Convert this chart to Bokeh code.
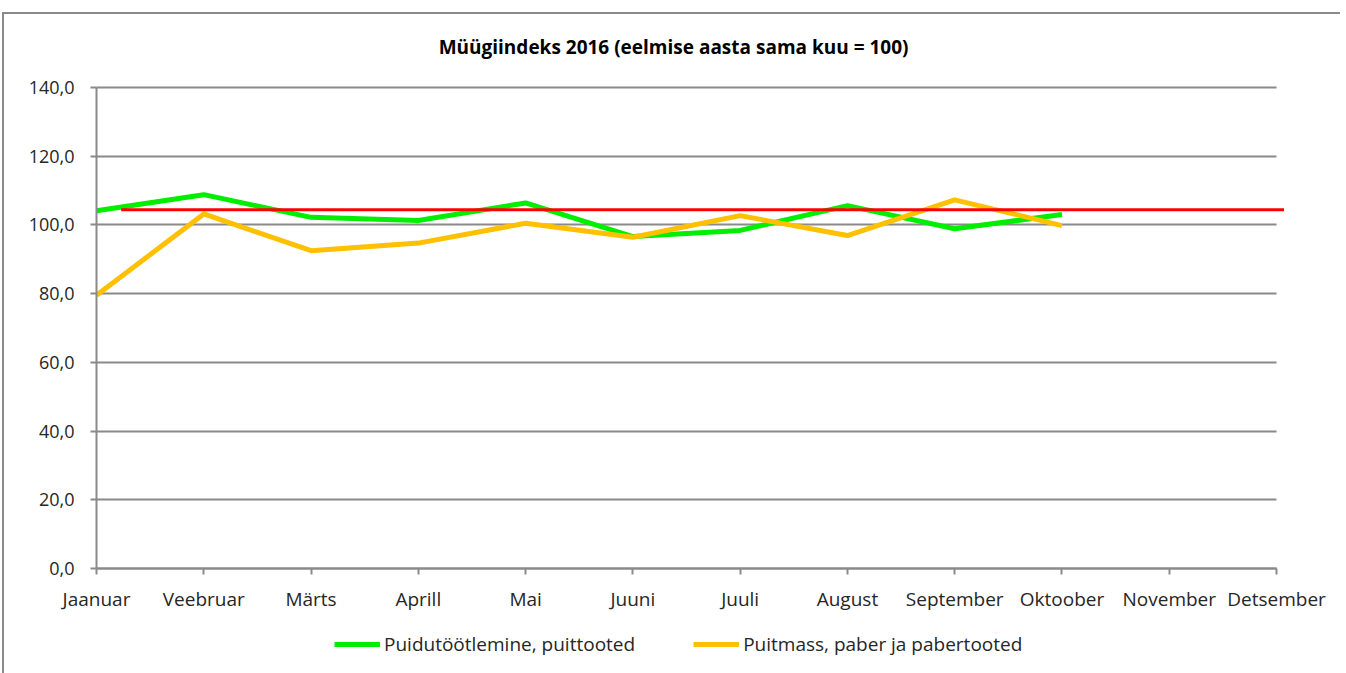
from bokeh.plotting import figure
from bokeh.models import (FixedTicker, CustomJSTickFormatter, Range1d, Legend, LegendItem)
from bokeh.embed import file_html
from bokeh.resources import INLINE

months = ["Jaanuar", "Veebruar", "Märts", "Aprill", "Mai", "Juuni", "Juuli",
          "August", "September", "Oktoober", "November", "Detsember"]
puidutootlemine = [104.1, 108.8, 102.2, 101.3, 106.4, 96.6, 98.4, 105.6, 98.9, 103.0]
puitmass = [79.5, 103.2, 92.5, 94.7, 100.5, 96.4, 102.7, 96.9, 107.3, 99.8]
reference_x = [0.23, 11.07]
reference_value = [104.4, 104.4]
y_ticks = [0, 20, 40, 60, 80, 100, 120, 140]

FONT = "Open Sans"
TXT = "#262626"

# frame extends beyond the value area so that axis labels and legend fit inside it
p = figure(frame_width=1316, frame_height=591, output_backend="svg", toolbar_location=None,
           x_range=Range1d(-0.7085, 11.559), y_range=Range1d(-29.1, 142.9),
           min_border_left=16, min_border_right=4, min_border_top=63,
           min_border_bottom=5)
p.styles = {"border-left": "2px solid #8a8a8a", "border-top": "2px solid #8a8a8a",
            "margin-top": "12px", "margin-left": "2px"}

p.title.text = "Müügiindeks  2016  (eelmise aasta sama kuu = 100)"
p.title.align = "center"
p.title.text_font = FONT
p.title.text_font_size = "19px"
p.title.text_font_style = "bold"
p.title.text_color = "#000000"
p.title.standoff = 35

p.outline_line_color = None
p.xgrid.visible = False
p.ygrid.grid_line_color = "#8a8a8a"
p.ygrid.grid_line_width = 2
p.ygrid.cross_bounds = (0, 11)
p.ygrid.bounds = (0, 140)

p.yaxis.ticker = FixedTicker(ticks=y_ticks)
p.yaxis.formatter = CustomJSTickFormatter(code="return tick.toFixed(1).replace('.', ',');")
p.yaxis.bounds = (0, 140)
p.yaxis.fixed_location = 0
p.xaxis.ticker = FixedTicker(ticks=list(range(len(months))))
p.xaxis.major_label_overrides = {i: m for i, m in enumerate(months)}
p.xaxis.bounds = (0, 11)
p.xaxis.fixed_location = 0
for ax in (p.xaxis[0], p.yaxis[0]):
    ax.axis_line_color = "#8a8a8a"
    ax.axis_line_width = 2
    ax.major_tick_line_color = "#8a8a8a"
    ax.major_tick_line_width = 2
    ax.major_tick_out = 6
    ax.major_tick_in = 0
    ax.minor_tick_line_color = None
    ax.major_label_text_font = FONT
    ax.major_label_text_font_size = "18px"
    ax.major_label_text_color = TXT
p.xaxis.major_label_text_font_size = "19px"
p.xaxis.major_label_standoff = 11
p.yaxis.major_label_standoff = 16

xs = list(range(len(puidutootlemine)))
g = p.line(xs, puidutootlemine, line_color="#00EE00", line_width=5, line_join="round")
o = p.line(list(range(len(puitmass))), puitmass, line_color="#FFC000", line_width=5, line_join="round")
p.line(reference_x, reference_value, line_color="#FF0000", line_width=3)

legend = Legend(items=[LegendItem(label="Puidutöötlemine, puittooted", renderers=[g]),
                       LegendItem(label="Puitmass, paber ja pabertooted", renderers=[o])],
                orientation="horizontal", location=(314, 11))
legend.label_text_font = FONT
legend.label_text_font_size = "19px"
legend.label_text_color = TXT
legend.glyph_width = 46
legend.label_standoff = 4
legend.spacing = 58
legend.border_line_color = None
legend.background_fill_alpha = 0
legend.margin = 0
legend.padding = 2
p.add_layout(legend, "center")

open("out.html", "w").write(file_html(p, INLINE))
